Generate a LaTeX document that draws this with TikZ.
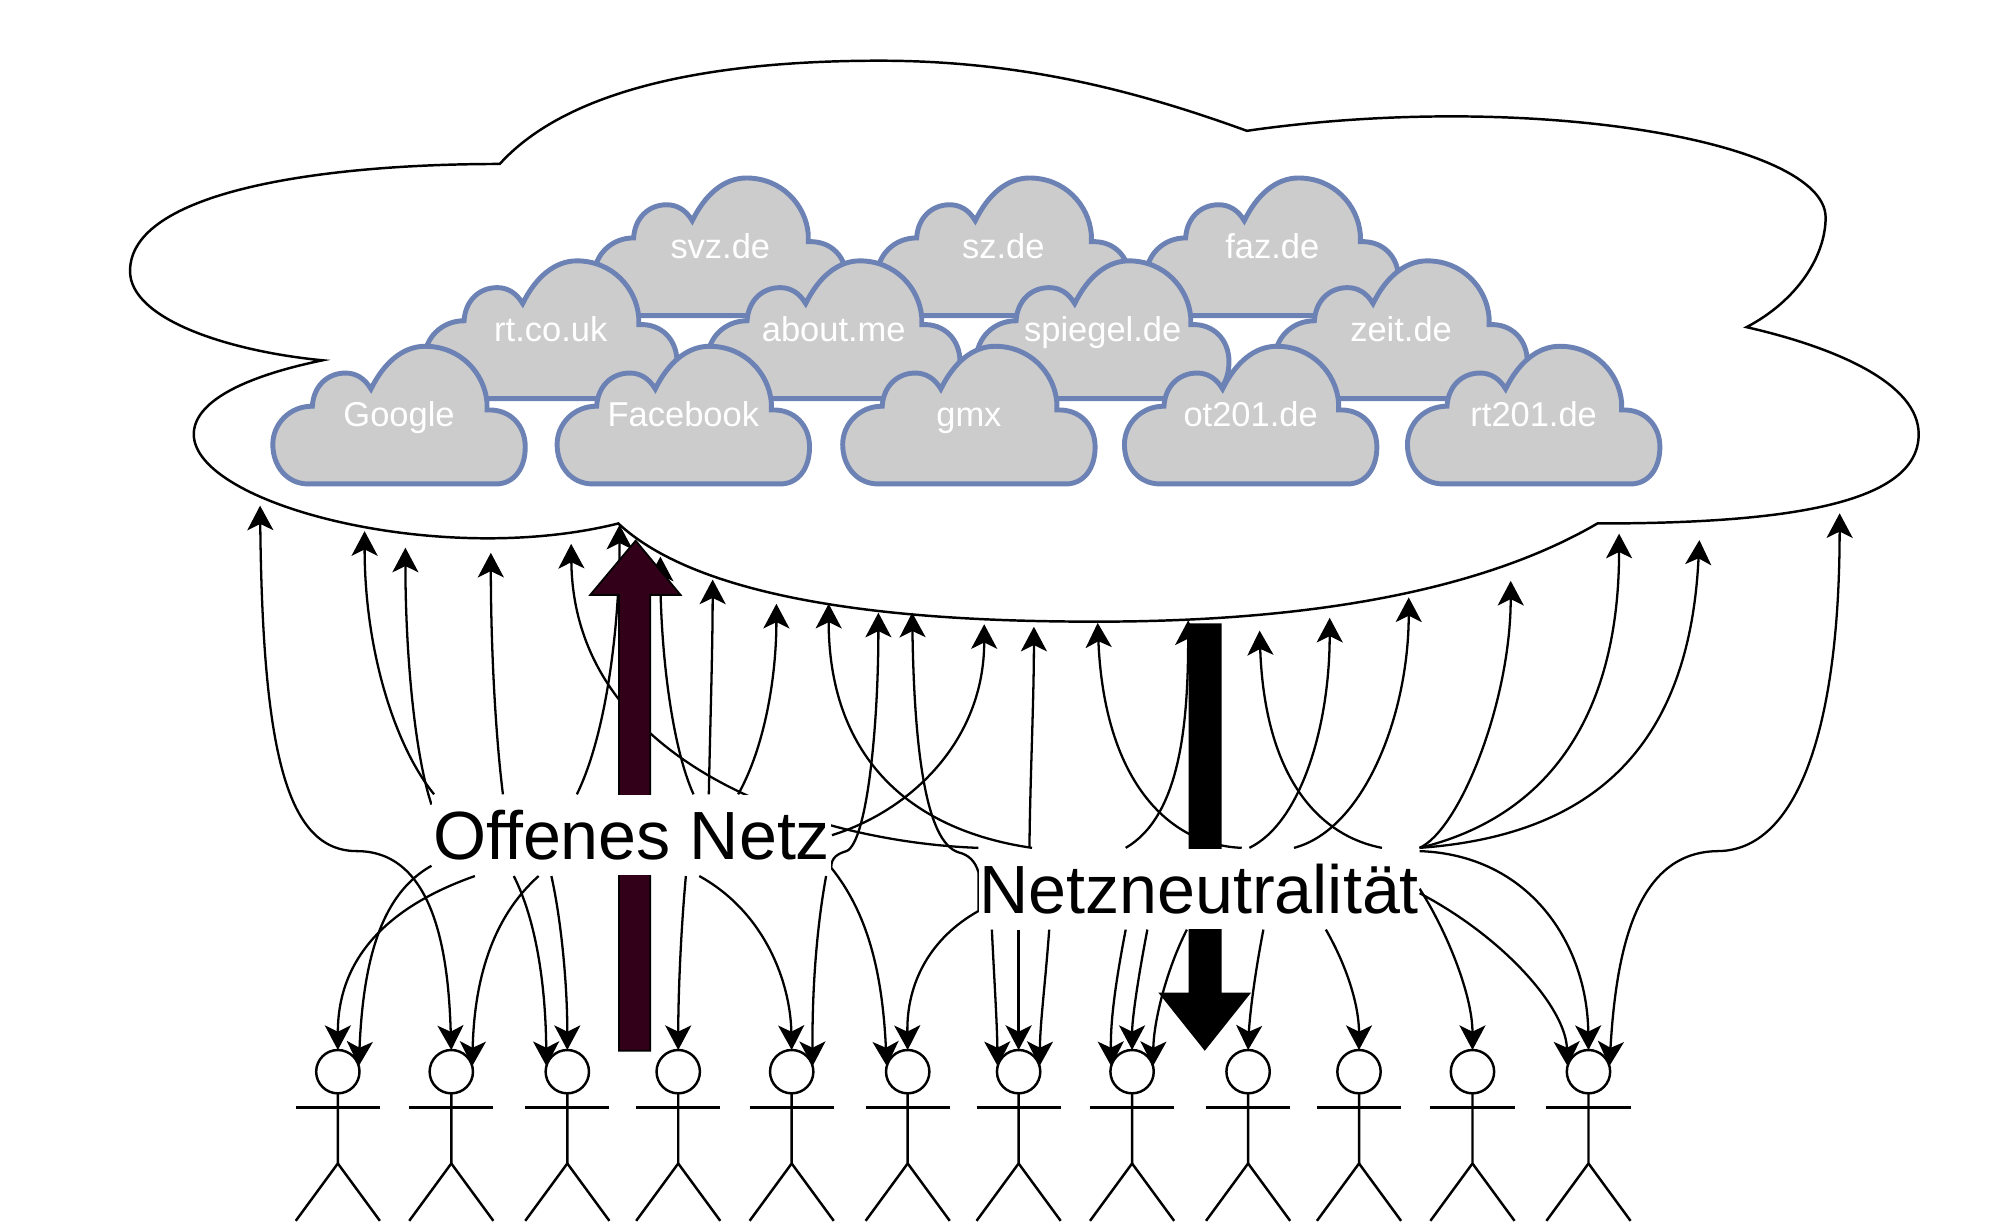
\documentclass[tikz,border=0pt]{standalone}
\usepackage{fontspec}
\setmainfont[Ligatures={NoCommon}]{Liberation Sans}
\usetikzlibrary{arrows.meta}
\newlength\unitpx
\setlength\unitpx{0.0127487cm}
\definecolor{cloudline}{HTML}{6C82B5}
\definecolor{cloudfill}{HTML}{CCCCCC}
\definecolor{darkplum}{HTML}{33001A}
\tikzset{
  bigcloud/.style={draw=black,line width=0.7pt,fill=white,line join=miter},
  webcloud/.style={draw=cloudline,fill=cloudfill,line width=1.4pt,line join=miter},
  weblabel/.style={text=white,inner sep=0pt,anchor=base,font=\fontsize{9.8}{12}\selectfont},
  wire/.style={draw=black,line width=0.65pt,-{Stealth[length=7pt,width=7.4pt,inset=1.8pt]}},
  wiretwo/.style={draw=black,line width=0.65pt,{Stealth[length=7pt,width=7.4pt,inset=1.8pt]}-{Stealth[length=7pt,width=7.4pt,inset=1.8pt]}},
  head/.style={circle,draw=black,line width=0.7pt,fill=white,minimum size=34\unitpx,inner sep=0pt,outer sep=0pt},
  limb/.style={draw=black,line width=0.7pt},
  biglabel/.style={fill=white,inner sep=0pt,minimum height=63\unitpx,font=\fontsize{19.4}{23}\selectfont},
}
\newcommand\webcloud[4]{%
  \begin{scope}[shift={(#1,#2)}]
    \path[webcloud] (29,109) .. controls (12,109) and (1,95) .. (1,78)
      .. controls (1,62) and (14,48) .. (32,48)
      .. controls (33,32) and (44,22) .. (58,22)
      .. controls (66,22) and (73,26) .. (78,34.5)
      .. controls (88,14) and (103,1) .. (120.5,1)
      .. controls (148,1) and (167,22) .. (169,45)
      -- (169,51)
      .. controls (187,50) and (199,63) .. (199,80)
      .. controls (199,97) and (190,109) .. (176,109) -- cycle;
    \node[weblabel] (#3) at (100,64.3) {#4};
  \end{scope}}
\begin{document}
\begin{tikzpicture}[x=0.0127487cm,y=-0.0127487cm]
\useasboundingbox (0,-0.6) rectangle (1568,957.9);
% main cloud
\path[bigcloud] (392,128) .. controls (250,128) and (102,150) .. (102,212)
  .. controls (102,250) and (180,275) .. (253,282)
  .. controls (190,295) and (152,315) .. (152,340)
  .. controls (152,395) and (345,445) .. (485,410)
  .. controls (560,480) and (750,487) .. (860,487)
  .. controls (1000,487) and (1150,470) .. (1253,410)
  .. controls (1400,410) and (1505,395) .. (1505,340)
  .. controls (1505,300) and (1440,272) .. (1370,256)
  .. controls (1410,235) and (1432,200) .. (1432,170)
  .. controls (1432,110) and (1200,70) .. (978,102)
  .. controls (890,70) and (800,47) .. (690,47)
  .. controls (540,47) and (440,75) .. (392,128) -- cycle;
% small clouds
\webcloud{465}{138}{svz}{svz.de}
\webcloud{687}{138}{sz}{sz.de}
\webcloud{898}{138}{faz}{faz.de}
\webcloud{332}{203}{rtuk}{rt.co.uk}
\webcloud{554}{203}{about}{about.me}
\webcloud{765}{203}{spiegel}{spiegel.de}
\webcloud{999}{203}{zeit}{zeit.de}
\webcloud{213}{270}{google}{Google}
\webcloud{436}{270}{facebook}{Facebook}
\webcloud{660}{270}{gmx}{gmx}
\webcloud{881}{270}{ot}{ot201.de}
\webcloud{1103}{270}{rt}{rt201.de}
% people
\foreach \px [count=\i] in {265,354,445,532,621,712,799,888,979,1066,1155,1246} {
  \node[head] (h\i) at (\px,840) {};
  \path[limb] (h\i.south) -- (\px,912) -- (\px-33,957);
  \path[limb] (\px,912) -- (\px+33,957);
  \path[limb] (\px-33,868) -- (\px+33,868);
}
% label placement (nodes drawn later on top use these same positions)
\path (495.5,654.5) node[biglabel,minimum width=313\unitpx,fill=none] (O) {};
\path (940.5,696.5) node[biglabel,minimum width=345\unitpx,fill=none] (N) {};
% free arrow ends under the big cloud
\coordinate (u1) at (204,396);
\coordinate (u2) at (286,416);
\coordinate (u3) at (318,429);
\coordinate (u4) at (385,433);
\coordinate (u5) at (448,426);
\coordinate (u6) at (486,411);
\coordinate (u7) at (518,436);
\coordinate (u8) at (559,454);
\coordinate (u9) at (609,473);
\coordinate (u10) at (650,473);
\coordinate (u11) at (689,480);
\coordinate (u12) at (715.5,480);
\coordinate (u13) at (772,489);
\coordinate (u14) at (811,491);
\coordinate (u15) at (861,488);
\coordinate (u16) at (932,486);
\coordinate (u17) at (988,494);
\coordinate (u18) at (1043,484);
\coordinate (u19) at (1105,468);
\coordinate (u20) at (1185,455);
\coordinate (u21) at (1270,418);
\coordinate (u22) at (1333,423);
\coordinate (u23) at (1443,402);
\coordinate (m1) at (280,667);
\coordinate (m2) at (1347,667);
\coordinate (m3) at (652,680);
\coordinate (m4) at (664,667);
% edges up from Offenes Netz
\path[wire] ([xshift=-155\unitpx]O.north) .. controls (310,585) and (286,510) .. (u2);
\path[wire] ([yshift=-8\unitpx]O.north west) .. controls (325,590) and (318,510) .. (u3);
\path[wire] ([xshift=-101\unitpx]O.north) .. controls (388,570) and (385,500) .. (u4);
\path[wire] ([xshift=-43\unitpx]O.north) .. controls (478,570) and (486,480) .. (u6);
\path[wire] ([xshift=48.5\unitpx]O.north) .. controls (527,585) and (518,510) .. (u7);
\path[wire] ([xshift=60.5\unitpx]O.north) .. controls (557,570) and (559,510) .. (u8);
\path[wire] ([xshift=83.5\unitpx]O.north) .. controls (600,585) and (609,530) .. (u9);
\path[wire] (O.east) .. controls (715,635) and (772,580) .. (u13);
% edges up from Netzneutralitaet
\path[wire] (N.north west) .. controls (640,660) and (450,600) .. (u5);
\path[wire] ([xshift=-131\unitpx]N.north) .. controls (710,650) and (650,590) .. (u10);
\path[wire] ([xshift=-133\unitpx]N.north) .. controls (808,610) and (811,550) .. (u14);
\path[wire] ([xshift=33.5\unitpx]N.north) .. controls (915,662) and (866,610) .. (u15);
\path[wire] ([xshift=-57.5\unitpx]N.north) .. controls (925,640) and (932,570) .. (u16);
\path[wire] ([xshift=143.5\unitpx]N.north) .. controls (1035,655) and (992,610) .. (u17);
\path[wire] ([xshift=39.5\unitpx]N.north) .. controls (1020,645) and (1043,570) .. (u18);
\path[wire] ([xshift=74.5\unitpx]N.north) .. controls (1070,650) and (1105,560) .. (u19);
\path[wire] (N.north east) .. controls (1145,650) and (1185,550) .. (u20);
\path[wire] (N.north east) .. controls (1215,640) and (1270,560) .. (u21);
\path[wire] (N.north east) .. controls (1245,655) and (1325,590) .. (u22);
% edges through the side of the picture, two heads
\path[wiretwo] (h2.north) .. controls (352,760) and (345,667) .. (m1)
  .. controls (225,667) and (206,590) .. (u1);
\path[wiretwo] (h12.15) .. controls (1268,740) and (1285,668) .. (m2)
  .. controls (1410,667) and (1443,570) .. (u23);
\path[wiretwo] (h6.165) .. controls (692,760) and (680,715) .. (m3)
  .. controls (652,672) and (657,669) .. (m4)
  .. controls (680,660) and (689,570) .. (u11);
\path[wiretwo] (h6.north) .. controls (711,770) and (730,735) .. ([yshift=-17.5\unitpx]N.west)
  -- ([yshift=13\unitpx]N.west) .. controls (765,675) and (760,670) .. (752,668)
  .. controls (725,660) and (717,580) .. (u12);
% edges down from Offenes Netz
\path[wire] ([xshift=-123\unitpx]O.south) .. controls (320,705) and (265,740) .. (h1.north);
\path[wire] ([yshift=-24\unitpx]O.west) .. controls (300,700) and (285,750) .. (h1.15);
\path[wire] ([xshift=-73\unitpx]O.south) .. controls (385,720) and (372,770) .. (h2.15);
\path[wire] ([xshift=-92.5\unitpx]O.south) .. controls (420,720) and (428,770) .. (h3.165);
\path[wire] ([xshift=-63\unitpx]O.south) .. controls (440,720) and (445,770) .. (h3.north);
\path[wire] ([xshift=42.5\unitpx]O.south) .. controls (534,730) and (532,780) .. (h4.north);
\path[wire] ([xshift=53\unitpx]O.south) .. controls (600,715) and (620,770) .. (h5.north);
\path[wire] ([xshift=152.5\unitpx]O.south) .. controls (640,730) and (637,780) .. (h5.15);
% edges down from Netzneutralitaet
\path[wire] ([xshift=-162.5\unitpx]N.south) .. controls (780,770) and (782,800) .. (h7.165);
\path[wire] ([xshift=-141.5\unitpx]N.south) .. controls (799,770) and (799,800) .. (h7.north);
\path[wire] ([xshift=-117.5\unitpx]N.south) .. controls (820,770) and (816,800) .. (h7.15);
\path[wire] ([xshift=-57.5\unitpx]N.south) .. controls (875,770) and (871,800) .. (h8.165);
\path[wire] ([xshift=-40.5\unitpx]N.south) .. controls (892,770) and (888,800) .. (h8.north);
\path[wire] ([xshift=-9.5\unitpx]N.south) .. controls (915,760) and (905,800) .. (h8.15);
\path[wire] ([xshift=50.5\unitpx]N.south) .. controls (983,770) and (980,800) .. (h9.north);
\path[wire] ([xshift=99.5\unitpx]N.south) .. controls (1058,760) and (1066,790) .. (h10.north);
\path[wire] (N.east) .. controls (1135,730) and (1155,780) .. (h11.north);
\path[wire] ([yshift=-3.5\unitpx]N.east) .. controls (1180,735) and (1228,790) .. (h12.165);
\path[wire] ([yshift=29.5\unitpx]N.east) .. controls (1200,670) and (1245,740) .. (h12.north);
% block arrows
\path[draw=black,fill=darkplum,line width=0.5pt,line join=miter]
  (485.6,823.5) -- (485.6,466) -- (463,466) -- (498.6,423.5) -- (533.8,466) -- (510,466) -- (510,823.5) -- cycle;
\path[draw=black,fill=black,line width=0.5pt,line join=miter]
  (933,489) -- (957.5,489) -- (957.5,778.6) -- (980,778.6) -- (945,822.5) -- (910,778.6) -- (933,778.6) -- cycle;
% label text on white
\node[biglabel,minimum width=313\unitpx] at (O.center) {Offenes Netz};
\node[biglabel,minimum width=345\unitpx] at (N.center) {Netzneutralität};
\end{tikzpicture}
\end{document}
